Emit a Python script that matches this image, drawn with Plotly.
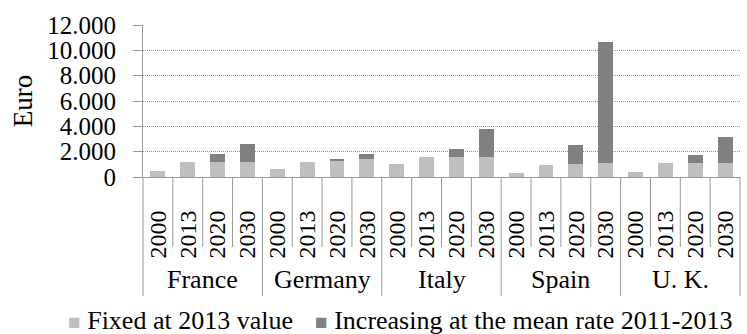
import plotly.graph_objects as go

# Categories
countries = ["France", "Germany", "Italy", "Spain", "U. K."]
years = ["2000", "2013", "2020", "2030"]

# Euro values per country/year (stacked series)
fixed_2013 = [500, 1190, 1190, 1190,
              610, 1190, 1320, 1400,
              1005, 1610, 1610, 1610,
              316, 925, 1030, 1130,
              420, 1130, 1130, 1130]
increasing_mean = [0, 0, 605, 1400,
                   0, 0, 105, 420,
                   0, 0, 580, 2190,
                   0, 0, 1480, 9495,
                   0, 0, 585, 2010]

series_names = ["Fixed at 2013 value", "Increasing at the mean rate 2011-2013"]
y_ticks = [0, 2000, 4000, 6000, 8000, 10000, 12000]

FONT = "Liberation Serif, Times New Roman, serif"
LIGHT = "#BFBFBF"
DARK = "#808080"
LINE = "#999999"

n_years = len(years)
n_cat = len(countries) * n_years
x_pos = list(range(n_cat))
x_labels = [y for _ in countries for y in years]

fig = go.Figure()
fig.add_trace(go.Bar(x=x_pos, y=fixed_2013, name=series_names[0],
                     marker=dict(color=LIGHT, line=dict(width=0))))
fig.add_trace(go.Bar(x=x_pos, y=increasing_mean, name=series_names[1],
                     marker=dict(color=DARK, line=dict(width=0))))

# plot geometry in pixels
W, H = 747, 334
ml, mr, mt, mb = 143, 7, 25, 157
plot_w = W - ml - mr
plot_h = H - mt - mb

def to_paper_x(xv):
    return (xv + 0.5) / n_cat

def px_x(px):
    return (px - ml) / plot_w

def px_below(py):
    return -(py / plot_h)

shapes = []
# separators between years within a country
for g in range(len(countries)):
    for k in range(1, n_years):
        xb = g * n_years + k - 0.5
        shapes.append(dict(type="line", xref="paper", yref="paper",
                           x0=to_paper_x(xb), x1=to_paper_x(xb),
                           y0=0, y1=px_below(70),
                           line=dict(color=LINE, width=1)))
# separators between countries (including outer edges)
for g in range(len(countries) + 1):
    xb = g * n_years - 0.5
    shapes.append(dict(type="line", xref="paper", yref="paper",
                       x0=to_paper_x(xb), x1=to_paper_x(xb),
                       y0=0, y1=px_below(119),
                       line=dict(color=LINE, width=1)))

annotations = []
for g, c in enumerate(countries):
    xc = g * n_years + (n_years - 1) / 2
    annotations.append(dict(text=c, x=to_paper_x(xc), xref="paper",
                            y=px_below(102), yref="paper",
                            xanchor="center", yanchor="middle",
                            showarrow=False,
                            font=dict(family=FONT, size=26, color="black")))

# legend row below the category labels
legend_items = [(series_names[0], LIGHT, 66), (series_names[1], DARK, 313)]
for name, color, left in legend_items:
    annotations.append(dict(
        text=f'<span style="color:{color};font-size:21px">■</span> {name}',
        x=px_x(left), xref="paper", y=px_below(143), yref="paper",
        xanchor="left", yanchor="middle", showarrow=False,
        font=dict(family=FONT, size=26, color="black")))

fig.update_layout(
    width=W, height=H,
    margin=dict(l=ml, r=mr, t=mt, b=mb, pad=0),
    barmode="stack",
    bargap=0.5,
    separators=",.",
    plot_bgcolor="white",
    paper_bgcolor="white",
    font=dict(family=FONT, size=25, color="black"),
    shapes=shapes,
    annotations=annotations,
    showlegend=False,
)

fig.update_xaxes(
    range=[-0.5, n_cat - 0.5],
    tickmode="array", tickvals=x_pos, ticktext=x_labels,
    tickangle=-90, ticks="", showgrid=False,
    showline=True, linecolor=LINE, linewidth=1,
    tickfont=dict(family=FONT, size=24, color="black"),
    ticklabelstandoff=23,
    zeroline=False, automargin=False,
)
fig.update_yaxes(
    range=[0, 12000], tickmode="array", tickvals=y_ticks,
    tickformat=",d",
    showgrid=True, gridcolor=LINE, griddash="1px,1px", gridwidth=1,
    showline=True, linecolor=LINE, linewidth=1,
    ticks="outside", ticklen=9, tickcolor=LINE,
    tickfont=dict(family=FONT, size=25, color="black"),
    ticklabelstandoff=12,
    title=dict(text="Euro", font=dict(family=FONT, size=27, color="black"),
               standoff=6),
    zeroline=False, automargin=False,
)

fig.write_html("out.html")
